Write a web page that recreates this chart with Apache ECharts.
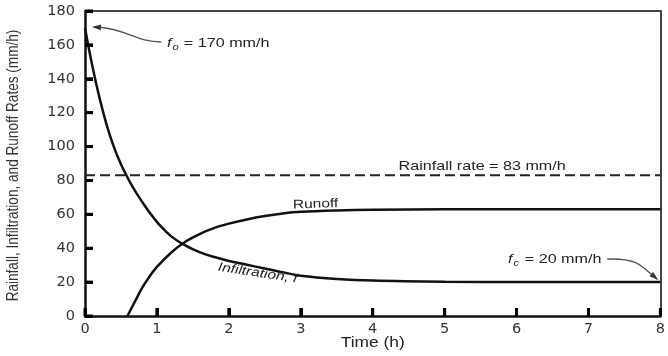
<!DOCTYPE html>
<html><head><meta charset="utf-8">
<script src="https://cdn.jsdelivr.net/npm/echarts@6/dist/echarts.min.js"></script>
<style>html,body{margin:0;padding:0;background:#fff}#c{width:668px;height:356px}</style>
</head><body><div id="c"></div>
<script>
// ---- data ----
const infilTime = [0, 0.1, 0.2, 0.3, 0.4, 0.5, 0.6, 0.7, 0.8, 0.9, 1.0, 1.2, 1.4, 1.6, 1.8, 2.0, 2.25, 2.5, 2.75, 3.0, 3.5, 4, 5, 6, 7, 8];
const infiltration = [170, 148, 129, 113, 100, 89.5, 81, 73.5, 67, 61, 55.5, 47, 41.5, 37.5, 34.8, 32.5, 30.3, 28, 25.8, 23.8, 21.9, 20.9, 20.2, 20, 20, 20];
const runoffTime = [0.59, 0.7, 0.8, 0.9, 1.0, 1.2, 1.4, 1.6, 1.8, 2.0, 2.25, 2.5, 2.75, 3.0, 3.5, 4, 5, 6, 7, 8];
const runoff = [0, 9, 17, 23.5, 29, 37.5, 44, 48.5, 52, 54.5, 57, 59, 60.5, 61.5, 62.3, 62.7, 63, 63, 63, 63];
const rainfallRate = 83;
const timeRange = [0, 8];
const rateRange = [0, 180];
const xTicks = [0, 1, 2, 3, 4, 5, 6, 7, 8];
const yTicks = [0, 20, 40, 60, 80, 100, 120, 140, 160, 180];
const xTitle = 'Time (h)';
const yTitle = 'Rainfall, Infiltration, and Runoff Rates (mm/h)';

const infilData = infilTime.map((t, i) => [t, infiltration[i]]);
const runoffData = runoffTime.map((t, i) => [t, runoff[i]]);
const rainData = timeRange.map(t => [t, rainfallRate]);

const chart = echarts.init(document.getElementById('c'));
const labelStyle = { color: '#333', fontFamily: 'DejaVu Sans', fontSize: 14.5 };
const frameAxis = { type: 'value', axisLine: { show: true, onZero: false, lineStyle: { color: '#444', width: 2 } },
  axisTick: { show: false }, axisLabel: { show: false }, splitLine: { show: false } };

chart.setOption({
  animation: false,
  grid: { left: 85, right: 1, top: 11, bottom: 40 },
  xAxis: [
    { type: 'value', position: 'bottom', min: timeRange[0], max: timeRange[1], interval: 1,
      axisLine: { show: true, lineStyle: { color: '#111', width: 2.5 } },
      axisTick: { show: true, inside: true, length: 8, lineStyle: { color: '#000', width: 3 } },
      splitLine: { show: false },
      axisLabel: Object.assign({ margin: 6 }, labelStyle) },
    Object.assign({ position: 'top', min: timeRange[0], max: timeRange[1] }, frameAxis)
  ],
  yAxis: [
    { type: 'value', position: 'left', min: rateRange[0], max: rateRange[1], interval: 20,
      axisLine: { show: true, lineStyle: { color: '#111', width: 2.5 } },
      axisTick: { show: true, inside: true, length: 8, lineStyle: { color: '#000', width: 3 } },
      splitLine: { show: false },
      axisLabel: Object.assign({ margin: 10 }, labelStyle) },
    Object.assign({ position: 'right', min: rateRange[0], max: rateRange[1] }, frameAxis)
  ],
  series: [
    { type: 'line', data: infilData, smooth: 0.35, showSymbol: false, lineStyle: { color: '#111', width: 2.5 }, z: 5 },
    { type: 'line', data: runoffData, smooth: 0.35, showSymbol: false, lineStyle: { color: '#111', width: 2.5 }, z: 5 },
    { type: 'line', data: rainData, showSymbol: false, lineStyle: { color: '#222', width: 2, type: [10, 5] }, z: 4 }
  ]
});

const P = (x, y) => chart.convertToPixel({ xAxisIndex: 0, yAxisIndex: 0 }, [x, y]);
const SX = 1.24;
const txtStyle = (text, size, extra) => Object.assign({ text: text, fontSize: size, fontFamily: 'Liberation Sans, Arial, sans-serif', fill: '#222', align: 'left', verticalAlign: 'middle' }, extra || {});

function arrowHead(ex, ey, fx, fy, len, hw) {
  const dx = ex - fx, dy = ey - fy, d = Math.hypot(dx, dy);
  const ux = dx / d, uy = dy / d;
  const bx = ex - ux * len, by = ey - uy * len;
  return { type: 'polygon', shape: { points: [[ex, ey], [bx - uy * hw, by + ux * hw], [bx + uy * hw, by - ux * hw]] }, style: { fill: '#333' }, z: 10 };
}

const g = [];
// inward tick marks as filled rectangles, placed through the axis scales
xTicks.forEach(t => {
  const p = P(t, rateRange[0]);
  g.push({ type: 'rect', shape: { x: p[0] - 1.5, y: p[1] - 8, width: 3, height: 8 }, style: { fill: '#000' }, z: 20 });
});
yTicks.forEach(v => {
  const p = P(timeRange[0], v);
  g.push({ type: 'rect', shape: { x: p[0], y: p[1] - 1.5, width: 8, height: 3 }, style: { fill: '#000' }, z: 20 });
});

const xc = P((timeRange[0] + timeRange[1]) / 2, 0);
g.push({ type: 'text', x: xc[0], y: 343, scaleX: SX, style: txtStyle(xTitle, 14, { align: 'center' }), z: 10 });
const yc = P(0, (rateRange[0] + rateRange[1]) / 2);
g.push({ type: 'text', x: 14, y: yc[1] + 2, rotation: Math.PI / 2, scaleY: 1.15, style: txtStyle(yTitle, 13.6, { align: 'center', fill: '#333' }), z: 10 });

const rp = P(4.36, 88);
g.push({ type: 'text', x: rp[0], y: rp[1], scaleX: SX, style: txtStyle('Rainfall rate = 83 mm/h', 13), z: 10 });
const ro = P(2.89, 65.5);
g.push({ type: 'text', x: ro[0], y: ro[1], scaleX: SX, rotation: 0.03, style: txtStyle('Runoff', 12.5), z: 10 });
const ip = P(2.4, 25.3);
g.push({ type: 'text', x: ip[0], y: ip[1], scaleX: SX, rotation: -0.15, style: txtStyle('Infiltration, f', 12.5, { align: 'center', fontStyle: 'italic' }), z: 10 });

const fo = P(1.14, 161);
g.push({ type: 'group', x: fo[0], y: fo[1], scaleX: SX, z: 10, children: [
  { type: 'text', x: 0, y: 0, style: txtStyle('f', 13, { fontStyle: 'italic' }) },
  { type: 'text', x: 4.5, y: 4, style: txtStyle('o', 9, { fontStyle: 'italic' }) },
  { type: 'text', x: 10, y: 0, style: txtStyle(' = 170 mm/h', 13) }
]});
const a1s = P(1.06, 161.7), a1e = P(0.096, 170.6);
g.push({ type: 'bezierCurve', shape: { x1: a1s[0], y1: a1s[1], x2: a1e[0] + 6, y2: a1e[1], cpx1: a1s[0] - 25, cpy1: a1s[1], cpx2: a1e[0] + 35, cpy2: a1e[1] + 2 }, style: { stroke: '#555', lineWidth: 1.4, fill: null }, z: 10 });
g.push(arrowHead(a1e[0], a1e[1], a1e[0] + 10, a1e[1] + 0.5, 9, 2.8));

const fc = P(5.88, 33.6);
g.push({ type: 'group', x: fc[0], y: fc[1], scaleX: SX, z: 10, children: [
  { type: 'text', x: 0, y: 0, style: txtStyle('f', 13, { fontStyle: 'italic' }) },
  { type: 'text', x: 4.5, y: 4, style: txtStyle('c', 9, { fontStyle: 'italic' }) },
  { type: 'text', x: 10, y: 0, style: txtStyle(' = 20 mm/h', 13) }
]});
const a2s = P(7.26, 33.6), a2e = P(7.97, 21.2);
g.push({ type: 'bezierCurve', shape: { x1: a2s[0], y1: a2s[1], x2: a2e[0] - 4, y2: a2e[1] - 3, cpx1: a2s[0] + 28, cpy1: a2s[1] - 1, cpx2: a2e[0] - 18, cpy2: a2e[1] - 16 }, style: { stroke: '#555', lineWidth: 1.4, fill: null }, z: 10 });
g.push(arrowHead(a2e[0], a2e[1], a2e[0] - 7, a2e[1] - 6, 9, 2.8));

chart.setOption({ graphic: g });
</script>
</body></html>
